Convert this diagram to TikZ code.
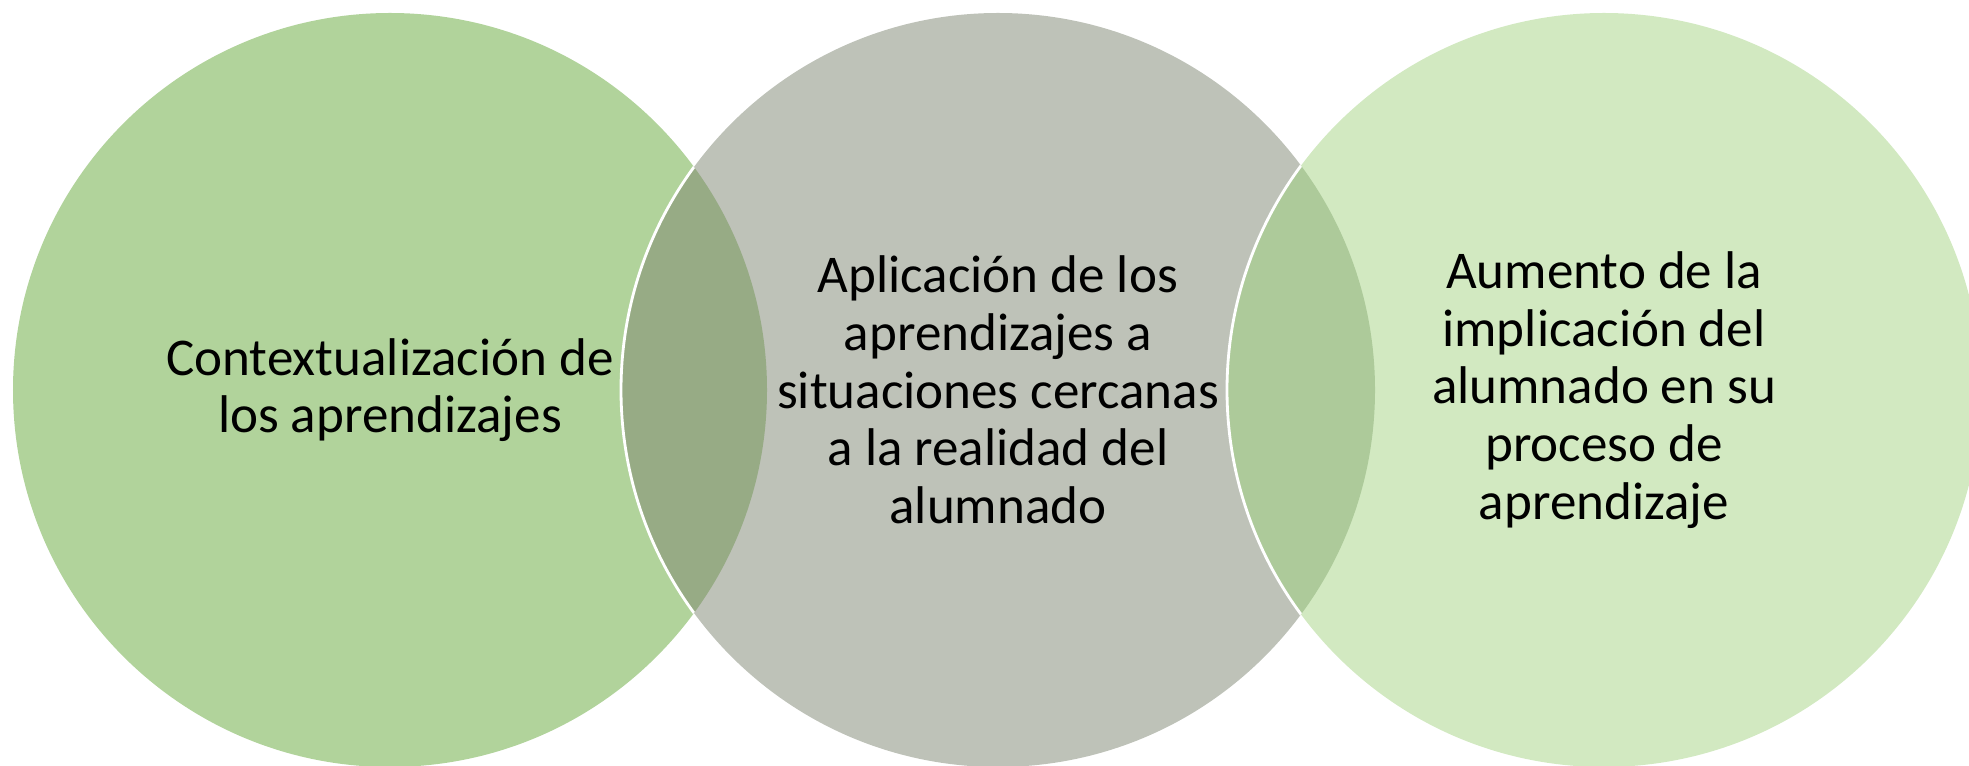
\documentclass[tikz,border=0pt]{standalone}
\usepackage{fontspec}
\setmainfont{Carlito}
\usepackage{xcolor}
\usetikzlibrary{positioning}

\definecolor{leftgreen}{HTML}{B1D39B}
\definecolor{midgrey}{HTML}{BEC2B8}
\definecolor{rightgreen}{HTML}{D2E9C1}
\definecolor{overlapleft}{HTML}{97AB85}
\definecolor{overlapright}{HTML}{ADCA9A}

\begin{document}
\begin{tikzpicture}[
        venn/.style={circle, minimum size=7.54cm, inner sep=0pt},
        venntext/.style={align=center, font=\fontsize{15.1}{16.4}\selectfont, text=black},
        rim/.style={draw=white, line width=0.8pt},
    ]
        \useasboundingbox (0,0) rectangle (19.69,7.65);
        \clip (0,0) rectangle (19.69,7.65);

        % Three circles
        \node[venn, fill=leftgreen] (ctx) at (3.90,3.75) {};
        \node[venn, fill=midgrey] (apl) at (9.98,3.75) {};
        \node[venn, fill=rightgreen] (aum) at (16.04,3.75) {};

        % Overlaps
        \begin{scope}
            \clip (ctx.center) circle (3.77);
            \fill[overlapleft] (apl.center) circle (3.77);
            \draw[rim] (apl.center) circle (3.77);
        \end{scope}
        \begin{scope}
            \clip (apl.center) circle (3.77);
            \fill[overlapright] (aum.center) circle (3.77);
            \draw[rim] (aum.center) circle (3.77);
        \end{scope}

        % Texts
        \node[venntext] (ctxtxt) at (ctx.center) {Contextualización de\\los aprendizajes};
        \node[venntext] (apltxt) at (apl.center) {Aplicación de los\\aprendizajes a\\situaciones cercanas\\a la realidad del\\alumnado};
        \node[venntext] (aumtxt) at (aum.center) {Aumento de la\\implicación del\\alumnado en su\\proceso de\\aprendizaje};
    \end{tikzpicture}
\end{document}
